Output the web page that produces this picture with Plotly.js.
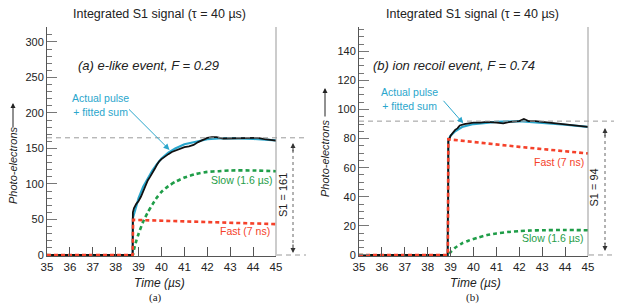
<!DOCTYPE html>
<html>
<head>
<meta charset="utf-8">
<script src="https://cdn.plot.ly/plotly-3.0.1.min.js"></script>
<style>html,body{margin:0;padding:0;background:#fff;}#chart{width:623px;height:305px;}</style>
</head>
<body>
<div id="chart"></div>
<script>
// ---------- data: panel (a) e-like event ----------
const aTime   = [35, 38.74, 38.75, 38.8, 38.9, 39.0, 39.1, 39.2, 39.3, 39.4, 39.5, 39.6, 39.7, 39.8, 39.9, 40.0, 40.15, 40.3, 40.45, 40.6, 40.8, 41.0, 41.2, 41.4, 41.6, 41.8, 42.0, 42.2, 42.4, 42.7, 43.0, 43.3, 43.6, 43.9, 44.2, 44.5, 44.8, 45.0];
const aSignal = [0, 0, 60, 66, 72, 76, 82, 90, 97, 105, 110, 115, 121, 127, 132, 135, 139, 142, 145, 147, 150, 152, 153, 155, 159, 162, 165, 166, 166, 164, 164, 165, 164, 164, 165, 163, 162, 161];
const aFitTime = [35, 38.74, 38.75, 38.8, 38.9, 39.0, 39.2, 39.4, 39.6, 39.8, 40.0, 40.3, 40.6, 41.0, 41.5, 42.0, 42.5, 43.0, 44.0, 45.0];
const aFit     = [0, 0, 52, 58, 69, 80, 96, 108, 119, 128, 136, 144, 150, 156, 160, 163, 164, 164.5, 163.5, 161.5];
const aSlowTime = [35, 38.74, 38.8, 38.9, 39.0, 39.2, 39.4, 39.6, 39.8, 40.0, 40.3, 40.6, 41.0, 41.5, 42.0, 42.5, 43.0, 44.0, 45.0];
const aSlow     = [0, 0, 8, 20, 30, 47, 60, 71, 81, 89, 97, 103, 109, 114, 117, 118, 119, 119, 118];
const aFastTime = [35, 38.74, 38.76, 40, 41, 42, 43, 44, 45];
const aFast     = [0, 0, 49.5, 48.5, 47.5, 46.5, 45.5, 44.5, 43.5];
const aS1Level = 165;

// ---------- data: panel (b) ion recoil event ----------
const bTime   = [35, 38.87, 38.88, 38.89, 38.9, 38.95, 39.0, 39.1, 39.2, 39.3, 39.4, 39.6, 39.8, 40.0, 40.3, 40.6, 41.0, 41.3, 41.6, 42.0, 42.2, 42.4, 42.7, 43.0, 43.5, 44.0, 44.5, 45.0];
const bSignal = [0, 0, 26, 26, 78, 80, 82, 84, 86, 87, 89, 90, 90.5, 91, 91, 91.5, 91, 90.5, 91.5, 92, 93.5, 92, 92, 91.5, 91, 90, 89, 88];
const bFitTime = [35, 38.88, 38.9, 39.0, 39.2, 39.5, 40.0, 40.6, 41.0, 42.0, 43.0, 44.0, 45.0];
const bFit     = [0, 0, 79, 82, 85, 88, 90, 91, 91.5, 92, 91, 89.5, 88];
const bSlowTime = [35, 38.89, 39.0, 39.2, 39.5, 39.8, 40.2, 40.6, 41.0, 41.5, 42.0, 42.5, 43.0, 44.0, 45.0];
const bSlow     = [0, 0, 2, 5, 8, 10, 12, 13.7, 14.8, 15.8, 16.4, 16.8, 17, 17.2, 17];
const bFastTime = [35, 38.88, 38.9, 40, 41, 42, 43, 44, 45];
const bFast     = [0, 0, 79.5, 77.5, 76, 74.3, 72.8, 71.3, 69.8];
const bS1Level = 92;

// ---------- labels ----------
const panelTitle = 'Integrated S1 signal (τ = 40 µs)';
const aLabel = '(a) e-like event, F = 0.29';
const bLabel = '(b) ion recoil event, F = 0.74';
const fitLabel = 'Actual pulse<br>+ fitted sum';
const slowLabel = 'Slow (1.6 µs)';
const fastLabel = 'Fast (7 ns)';
const aS1Label = 'S1 = 161';
const bS1Label = 'S1 = 94';
const xTitle = 'Time (µs)';
const yTitle = 'Photo-electrons';

// ---------- styles ----------
const W = 623, H = 305;
const FONT = 'Liberation Sans, Arial, Helvetica, sans-serif';
const CYAN = '#2aa6cc', RED = '#f5412a', GREEN = '#1f9d48', BLACK = '#111';
const px = v => v / W;
const py = v => 1 - v / H;

function traces(t, sig, ft, fit, st, slow, fst, fast, xa, ya) {
  return [
    {x: ft, y: fit, xaxis: xa, yaxis: ya, mode: 'lines', line: {color: CYAN, width: 2.2}, hoverinfo: 'skip'},
    {x: t, y: sig, xaxis: xa, yaxis: ya, mode: 'lines', line: {color: BLACK, width: 1.8, shape: 'linear'}, hoverinfo: 'skip'},
    {x: st, y: slow, xaxis: xa, yaxis: ya, mode: 'lines', line: {color: GREEN, width: 2.6, dash: '4px,3px', shape: 'spline', smoothing: 0.6}, hoverinfo: 'skip'},
    {x: fst, y: fast, xaxis: xa, yaxis: ya, mode: 'lines', line: {color: RED, width: 2.6, dash: '4px,3px'}, hoverinfo: 'skip'}
  ];
}

const data = [
  ...traces(aTime, aSignal, aFitTime, aFit, aSlowTime, aSlow, aFastTime, aFast, 'x', 'y'),
  ...traces(bTime, bSignal, bFitTime, bFit, bSlowTime, bSlow, bFastTime, bFast, 'x2', 'y2')
];

const yDom = [(H - 256) / H, (H - 27) / H];
const xAxisBase = {
  range: [35, 45], dtick: 1, tick0: 35, ticks: 'inside', ticklen: 9, tickcolor: '#555', tickwidth: 1,
  showline: true, linecolor: '#555', linewidth: 1, showgrid: false, zeroline: false,
  tickfont: {family: FONT, size: 11.5, color: '#222'}, fixedrange: true
};
const yAxisBase = {
  ticks: 'inside', ticklen: 10, tickcolor: '#777', tickwidth: 1,
  showline: true, linecolor: '#555', linewidth: 1, showgrid: false, zeroline: false,
  tickfont: {family: FONT, size: 11, color: '#222'}, domain: yDom, fixedrange: true
};

const layout = {
  width: W, height: H, margin: {l: 0, r: 0, t: 0, b: 0},
  paper_bgcolor: '#fff', plot_bgcolor: 'rgba(0,0,0,0)', showlegend: false,
  font: {family: FONT, color: '#222'},
  xaxis: Object.assign({}, xAxisBase, {domain: [px(47), px(276)], anchor: 'y'}),
  yaxis: Object.assign({}, yAxisBase, {range: [-1.4, 321], dtick: 50, tick0: 0, anchor: 'x',
    minor: {ticks: 'inside', dtick: 10, ticklen: 5, tickcolor: '#777'}}),
  xaxis2: Object.assign({}, xAxisBase, {domain: [px(359), px(588)], anchor: 'y2'}),
  yaxis2: Object.assign({}, yAxisBase, {range: [-0.7, 156.7], dtick: 20, tick0: 0, anchor: 'x2',
    minor: {ticks: 'inside', dtick: 5, ticklen: 5, tickcolor: '#777'}}),
  shapes: [
    // right borders
    {type: 'line', xref: 'paper', yref: 'paper', x0: px(276), x1: px(276), y0: yDom[0], y1: yDom[1], line: {color: '#999', width: 1}},
    {type: 'line', xref: 'paper', yref: 'paper', x0: px(588), x1: px(588), y0: yDom[0], y1: yDom[1], line: {color: '#999', width: 1}},
    // S1 level dashed lines
    {type: 'line', xref: 'paper', yref: 'y', x0: px(47), x1: px(306), y0: aS1Level, y1: aS1Level, line: {color: '#9a9a9a', width: 1, dash: '5px,4px'}},
    {type: 'line', xref: 'paper', yref: 'y', x0: px(277), x1: px(306), y0: 0, y1: 0, line: {color: '#9a9a9a', width: 1, dash: '5px,4px'}},
    {type: 'line', xref: 'paper', yref: 'y2', x0: px(359), x1: px(614), y0: bS1Level, y1: bS1Level, line: {color: '#9a9a9a', width: 1, dash: '5px,4px'}},
    {type: 'line', xref: 'paper', yref: 'y2', x0: px(589), x1: px(614), y0: 0, y1: 0, line: {color: '#9a9a9a', width: 1, dash: '5px,4px'}},
    // S1 dotted vertical spans
    {type: 'line', xref: 'paper', yref: 'paper', x0: px(293), x1: px(293), y0: py(150), y1: py(246), line: {color: '#666', width: 1, dash: 'dot'}},
    {type: 'line', xref: 'paper', yref: 'paper', x0: px(605), x1: px(605), y0: py(135), y1: py(244), line: {color: '#666', width: 1, dash: 'dot'}}
  ],
  annotations: []
};

const A = layout.annotations;
function txt(x, y, text, size, color, extra) {
  A.push(Object.assign({xref: 'paper', yref: 'paper', x: px(x), y: py(y), text: text, showarrow: false,
    xanchor: 'center', yanchor: 'middle', font: {family: FONT, size: size, color: color}}, extra || {}));
}
function arrowPx(x, y, ax, ay, color, w) {
  A.push({xref: 'paper', yref: 'paper', x: px(x), y: py(y), ax: ax, ay: ay, text: '', showarrow: true,
    arrowhead: 2, arrowsize: 1, arrowwidth: w || 1, arrowcolor: color, standoff: 0});
}

// titles
txt(160, 14, panelTitle, 12.5, '#222');
txt(472, 14, panelTitle, 12.5, '#222');
// event labels
txt(148, 66, '<i>' + aLabel + '</i>', 13, '#222');
txt(454, 65, '<i>' + bLabel + '</i>', 13, '#222');
// fit labels
txt(100, 105.5, fitLabel, 10.5, CYAN);
txt(409, 98.5, fitLabel, 10.5, CYAN);
A.push({xref: 'x', yref: 'y', x: 40.35, y: 148, ax: -42, ay: -42, text: '', showarrow: true,
  arrowhead: 2, arrowsize: 1.2, arrowwidth: 1, arrowcolor: CYAN, standoff: 0});
A.push({xref: 'x2', yref: 'y2', x: 39.55, y: 90.5, ax: -21, ay: -24, text: '', showarrow: true,
  arrowhead: 2, arrowsize: 1.2, arrowwidth: 1, arrowcolor: CYAN, standoff: 0});
// component labels
txt(241, 180, slowLabel, 10.5, GREEN);
txt(245, 231, fastLabel, 10.5, RED);
txt(559, 162, fastLabel, 10.5, RED);
txt(552, 238, slowLabel, 10.5, GREEN);
// S1 labels
txt(283, 195, aS1Label, 11, '#222', {textangle: -90});
txt(593, 187.5, bS1Label, 11, '#222', {textangle: -90});
arrowPx(293, 143, 0, 10, '#333', 1);
arrowPx(293, 253, 0, -10, '#333', 1);
arrowPx(605, 128, 0, 10, '#333', 1);
arrowPx(605, 251, 0, -10, '#333', 1);
// axis titles
txt(159, 283, '<i>' + xTitle + '</i>', 12, '#222');
txt(475, 283, '<i>' + xTitle + '</i>', 12, '#222');
txt(155, 297, '(a)', 11, '#222', {font: {family: 'Liberation Serif, Times New Roman, serif', size: 11, color: '#222'}});
txt(472, 297, '(b)', 11, '#222', {font: {family: 'Liberation Serif, Times New Roman, serif', size: 11, color: '#222'}});
txt(13, 165, '<i>' + yTitle + '</i>', 11, '#222', {textangle: -90});
txt(325, 158, '<i>' + yTitle + '</i>', 11, '#222', {textangle: -90});
arrowPx(13, 103, 0, 26, '#222', 1);
arrowPx(325, 88, 0, 30, '#222', 1);

Plotly.newPlot('chart', data, layout, {staticPlot: true, displayModeBar: false});
</script>
</body>
</html>
